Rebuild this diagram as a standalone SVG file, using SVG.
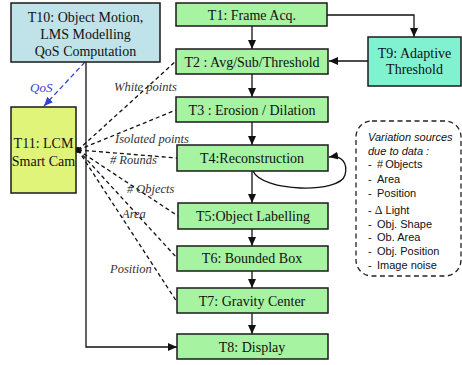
<svg xmlns="http://www.w3.org/2000/svg" width="462" height="365" viewBox="0 0 462 365">
<style>
.box{stroke:#1a1a1a;stroke-width:1.5}
.g{fill:#a6f4a2}
.t{font-family:"Liberation Serif",serif;font-size:14px;fill:#111;text-anchor:middle}
.lbl{font-family:"Liberation Serif",serif;font-size:12.5px;font-style:italic;fill:#333}
.v{font-family:"Liberation Sans",Arial,sans-serif;font-size:11px;fill:#111}
.ln{fill:none;stroke:#111;stroke-width:1.3}
.dl{fill:none;stroke:#111;stroke-width:1.3;stroke-dasharray:4,3}
</style>
<defs>
<marker id="ah" markerWidth="10" markerHeight="10" refX="9" refY="5" orient="auto" markerUnits="userSpaceOnUse">
<path d="M0,1 L9,5 L0,9 z" fill="#111"/>
</marker>
<marker id="ahb" markerWidth="10" markerHeight="10" refX="9" refY="5" orient="auto" markerUnits="userSpaceOnUse">
<path d="M0,1 L9,5 L0,9 z" fill="#3344cc"/>
</marker>
</defs>

<g id="connectors">
<line class="ln" x1="252" y1="26" x2="252" y2="49" marker-end="url(#ah)"/>
<line class="ln" x1="252" y1="74" x2="252" y2="97" marker-end="url(#ah)"/>
<line class="ln" x1="252" y1="122" x2="252" y2="145" marker-end="url(#ah)"/>
<line class="ln" x1="252" y1="171" x2="252" y2="203" marker-end="url(#ah)"/>
<line class="ln" x1="252" y1="229" x2="252" y2="246" marker-end="url(#ah)"/>
<line class="ln" x1="252" y1="271" x2="252" y2="288" marker-end="url(#ah)"/>
<line class="ln" x1="252" y1="313" x2="252" y2="334" marker-end="url(#ah)"/>
<polyline class="ln" points="327,15 414,15 414,37" marker-end="url(#ah)"/>
<line class="ln" x1="368" y1="61" x2="329" y2="61" marker-end="url(#ah)"/>
<path class="ln" d="M253,171 C262,192 340,194 345,175 C348,163 342,155 329,157" marker-end="url(#ah)"/>
<polyline class="ln" points="86,62 86,347 177,347" marker-end="url(#ah)"/>
<line x1="85" y1="62" x2="44" y2="106" stroke="#3344cc" stroke-width="1.3" stroke-dasharray="5,3" marker-end="url(#ahb)"/>
<text x="30" y="92" font-family="Liberation Serif,serif" font-size="13" font-style="italic" fill="#3344cc">QoS</text>
<line class="dl" x1="78" y1="150" x2="176" y2="61"/>
<line class="dl" x1="78" y1="150" x2="176" y2="110"/>
<line class="dl" x1="78" y1="150" x2="177" y2="158"/>
<line class="dl" x1="78" y1="150" x2="178" y2="216"/>
<line class="dl" x1="78" y1="150" x2="177" y2="258"/>
<line class="dl" x1="78" y1="150" x2="177" y2="302"/>
<circle cx="78" cy="150" r="3" fill="#111"/>
<text class="lbl" x="114" y="91">White points</text>
<text class="lbl" x="115" y="143">Isolated points</text>
<text class="lbl" x="110" y="164">#<tspan dx="3">Rounds</tspan></text>
<text class="lbl" x="127" y="193">#<tspan dx="3">Objects</tspan></text>
<text class="lbl" x="122" y="218">Area</text>
<text class="lbl" x="110" y="273">Position</text>
</g>

<g id="T10">
<rect class="box" x="11" y="3" width="149" height="59" fill="#bfe3e8"/>
<text class="t" x="85.5" y="22">T10: Object Motion,</text>
<text class="t" x="85.5" y="39">LMS Modelling</text>
<text class="t" x="85.5" y="56">QoS Computation</text>
</g>
<g id="T11">
<rect class="box" x="11" y="107" width="65" height="86" fill="#e1f47a"/>
<text class="t" x="43.5" y="148">T11: LCM</text>
<text class="t" x="43.5" y="166">Smart Cam</text>
</g>
<g id="T1">
<rect class="box g" x="176" y="3" width="151" height="23"/>
<text class="t" x="252" y="19.5">T1: Frame Acq.</text>
</g>
<g id="T2">
<rect class="box g" x="176" y="49" width="152" height="25"/>
<text class="t" x="252" y="66.5">T2 : Avg/Sub/Threshold</text>
</g>
<g id="T3">
<rect class="box g" x="176" y="97" width="152" height="25"/>
<text class="t" x="252" y="114.5">T3 : Erosion / Dilation</text>
</g>
<g id="T4">
<rect class="box g" x="177" y="145" width="151" height="26"/>
<text class="t" x="252" y="163">T4:Reconstruction</text>
</g>
<g id="T5">
<rect class="box g" x="178" y="203" width="150" height="26"/>
<text class="t" x="253" y="221">T5:Object Labelling</text>
</g>
<g id="T6">
<rect class="box g" x="177" y="246" width="151" height="25"/>
<text class="t" x="252" y="263">T6: Bounded Box</text>
</g>
<g id="T7">
<rect class="box g" x="177" y="288" width="151" height="25"/>
<text class="t" x="252" y="305.5">T7: Gravity Center</text>
</g>
<g id="T8">
<rect class="box g" x="177" y="334" width="151" height="25"/>
<text class="t" x="252" y="351.5">T8: Display</text>
</g>
<g id="T9">
<rect class="box" x="368" y="37" width="93" height="49" fill="#80f2d0"/>
<text class="t" x="414.5" y="58">T9: Adaptive</text>
<text class="t" x="414.5" y="74">Threshold</text>
</g>
<g id="variation">
<rect x="356" y="121" width="105" height="155" rx="16" ry="16" fill="none" stroke="#222" stroke-width="1.3" stroke-dasharray="5,3.5"/>
<text class="v" x="368" y="141" font-style="italic">Variation sources</text>
<text class="v" x="368" y="155" font-style="italic">due to data :</text>
<text class="v" x="368" y="168">-<tspan x="377">#</tspan><tspan dx="2">Objects</tspan></text>
<text class="v" x="368" y="183">-<tspan x="377">Area</tspan></text>
<text class="v" x="368" y="197">-<tspan x="377">Position</tspan></text>
<text class="v" x="368" y="214">- <tspan font-family="Liberation Serif,serif" font-size="12">Δ</tspan> Light</text>
<text class="v" x="368" y="228">-<tspan x="377">Obj. Shape</tspan></text>
<text class="v" x="368" y="241">-<tspan x="377">Ob. Area</tspan></text>
<text class="v" x="368" y="255">-<tspan x="377">Obj. Position</tspan></text>
<text class="v" x="368" y="269">-<tspan x="377">Image noise</tspan></text>
</g>
</svg>
